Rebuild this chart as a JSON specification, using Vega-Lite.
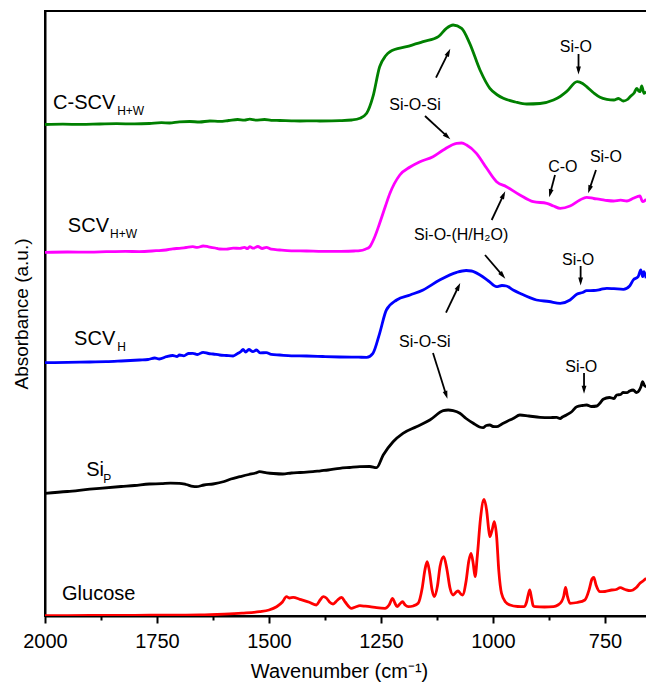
{
"$schema": "https://vega.github.io/schema/vega-lite/v6.json",
"width": 603, "height": 605,
"autosize": {"type": "none"},
"padding": {"left": 45, "top": 11, "right": 0, "bottom": 72},
"config": {"font": "Liberation Sans", "view": {"stroke": "black", "strokeWidth": 2}},
"datasets": {
"spectra": [
{"s":"C-SCVH+W","w":2000,"a":491.5},{"s":"C-SCVH+W","w":1960,"a":491.8},{"s":"C-SCVH+W","w":1920,"a":491.6},{"s":"C-SCVH+W","w":1878,"a":492},{"s":"C-SCVH+W","w":1840,"a":492.3},{"s":"C-SCVH+W","w":1800,"a":492.1},{"s":"C-SCVH+W","w":1767,"a":492.5},{"s":"C-SCVH+W","w":1740,"a":493.3},{"s":"C-SCVH+W","w":1722,"a":493},{"s":"C-SCVH+W","w":1700,"a":494.2},{"s":"C-SCVH+W","w":1677,"a":494.5},{"s":"C-SCVH+W","w":1655,"a":494},{"s":"C-SCVH+W","w":1632,"a":495},{"s":"C-SCVH+W","w":1610,"a":494.6},{"s":"C-SCVH+W","w":1590,"a":495.5},{"s":"C-SCVH+W","w":1570,"a":496.5},{"s":"C-SCVH+W","w":1555,"a":495.8},{"s":"C-SCVH+W","w":1543,"a":496.8},{"s":"C-SCVH+W","w":1530,"a":495.9},{"s":"C-SCVH+W","w":1510,"a":496.5},{"s":"C-SCVH+W","w":1495,"a":495.7},{"s":"C-SCVH+W","w":1476,"a":495.5},{"s":"C-SCVH+W","w":1450,"a":495.2},{"s":"C-SCVH+W","w":1431,"a":495},{"s":"C-SCVH+W","w":1400,"a":495.2},{"s":"C-SCVH+W","w":1387,"a":495},{"s":"C-SCVH+W","w":1360,"a":495.1},{"s":"C-SCVH+W","w":1342,"a":495.3},{"s":"C-SCVH+W","w":1315,"a":496},{"s":"C-SCVH+W","w":1297,"a":497.7},{"s":"C-SCVH+W","w":1282,"a":502.7},{"s":"C-SCVH+W","w":1268,"a":519.3},{"s":"C-SCVH+W","w":1253,"a":549.3},{"s":"C-SCVH+W","w":1240,"a":560},{"s":"C-SCVH+W","w":1230,"a":564.3},{"s":"C-SCVH+W","w":1193,"a":569.3},{"s":"C-SCVH+W","w":1156,"a":574.3},{"s":"C-SCVH+W","w":1122,"a":579.3},{"s":"C-SCVH+W","w":1104,"a":587.7},{"s":"C-SCVH+W","w":1089,"a":591},{"s":"C-SCVH+W","w":1070,"a":587.7},{"s":"C-SCVH+W","w":1052,"a":572.7},{"s":"C-SCVH+W","w":1029,"a":546},{"s":"C-SCVH+W","w":1007,"a":527.7},{"s":"C-SCVH+W","w":990,"a":521},{"s":"C-SCVH+W","w":977,"a":517.7},{"s":"C-SCVH+W","w":950,"a":514},{"s":"C-SCVH+W","w":925,"a":512},{"s":"C-SCVH+W","w":895,"a":512.5},{"s":"C-SCVH+W","w":865,"a":516},{"s":"C-SCVH+W","w":850,"a":519.5},{"s":"C-SCVH+W","w":836,"a":524.3},{"s":"C-SCVH+W","w":812,"a":534.3},{"s":"C-SCVH+W","w":800,"a":532.5},{"s":"C-SCVH+W","w":791,"a":529.3},{"s":"C-SCVH+W","w":775,"a":523},{"s":"C-SCVH+W","w":761,"a":518.7},{"s":"C-SCVH+W","w":746,"a":516.7},{"s":"C-SCVH+W","w":730,"a":516},{"s":"C-SCVH+W","w":720,"a":517.5},{"s":"C-SCVH+W","w":709,"a":515},{"s":"C-SCVH+W","w":700,"a":516.5},{"s":"C-SCVH+W","w":694,"a":519.3},{"s":"C-SCVH+W","w":685,"a":523},{"s":"C-SCVH+W","w":679,"a":527.7},{"s":"C-SCVH+W","w":675,"a":525},{"s":"C-SCVH+W","w":672,"a":524.3},{"s":"C-SCVH+W","w":668,"a":530},{"s":"C-SCVH+W","w":663,"a":522.7},{"s":"C-SCVH+W","w":658,"a":524.3},
{"s":"SCVH+W","w":2000,"a":363.7},{"s":"SCVH+W","w":1950,"a":364},{"s":"SCVH+W","w":1900,"a":363.9},{"s":"SCVH+W","w":1863,"a":364.3},{"s":"SCVH+W","w":1820,"a":364.6},{"s":"SCVH+W","w":1790,"a":364.4},{"s":"SCVH+W","w":1752,"a":365.3},{"s":"SCVH+W","w":1730,"a":366},{"s":"SCVH+W","w":1715,"a":367.2},{"s":"SCVH+W","w":1700,"a":367.7},{"s":"SCVH+W","w":1685,"a":368.5},{"s":"SCVH+W","w":1670,"a":369.3},{"s":"SCVH+W","w":1660,"a":368.6},{"s":"SCVH+W","w":1647,"a":370},{"s":"SCVH+W","w":1635,"a":369.2},{"s":"SCVH+W","w":1620,"a":368},{"s":"SCVH+W","w":1610,"a":367},{"s":"SCVH+W","w":1595,"a":366.8},{"s":"SCVH+W","w":1580,"a":367.8},{"s":"SCVH+W","w":1565,"a":367.7},{"s":"SCVH+W","w":1555,"a":368.6},{"s":"SCVH+W","w":1548,"a":367.3},{"s":"SCVH+W","w":1543,"a":369.3},{"s":"SCVH+W","w":1535,"a":367.8},{"s":"SCVH+W","w":1525,"a":369.5},{"s":"SCVH+W","w":1515,"a":367.5},{"s":"SCVH+W","w":1506,"a":368.7},{"s":"SCVH+W","w":1495,"a":366.8},{"s":"SCVH+W","w":1476,"a":366},{"s":"SCVH+W","w":1450,"a":365.2},{"s":"SCVH+W","w":1416,"a":365},{"s":"SCVH+W","w":1380,"a":364.6},{"s":"SCVH+W","w":1342,"a":364.7},{"s":"SCVH+W","w":1310,"a":365},{"s":"SCVH+W","w":1297,"a":365.3},{"s":"SCVH+W","w":1285,"a":366.8},{"s":"SCVH+W","w":1275,"a":369.3},{"s":"SCVH+W","w":1265,"a":378},{"s":"SCVH+W","w":1253,"a":392.7},{"s":"SCVH+W","w":1240,"a":410},{"s":"SCVH+W","w":1230,"a":422.7},{"s":"SCVH+W","w":1208,"a":441},{"s":"SCVH+W","w":1185,"a":449},{"s":"SCVH+W","w":1163,"a":454.3},{"s":"SCVH+W","w":1134,"a":459.3},{"s":"SCVH+W","w":1111,"a":466},{"s":"SCVH+W","w":1081,"a":472.7},{"s":"SCVH+W","w":1070,"a":473},{"s":"SCVH+W","w":1059,"a":471},{"s":"SCVH+W","w":1037,"a":462.7},{"s":"SCVH+W","w":1014,"a":447.7},{"s":"SCVH+W","w":992,"a":434.3},{"s":"SCVH+W","w":970,"a":429.3},{"s":"SCVH+W","w":940,"a":421},{"s":"SCVH+W","w":910,"a":414.3},{"s":"SCVH+W","w":880,"a":412.7},{"s":"SCVH+W","w":865,"a":410},{"s":"SCVH+W","w":850,"a":407.7},{"s":"SCVH+W","w":828,"a":410},{"s":"SCVH+W","w":806,"a":416},{"s":"SCVH+W","w":791,"a":418.7},{"s":"SCVH+W","w":775,"a":417.5},{"s":"SCVH+W","w":761,"a":416.7},{"s":"SCVH+W","w":745,"a":415.5},{"s":"SCVH+W","w":731,"a":415},{"s":"SCVH+W","w":715,"a":415.8},{"s":"SCVH+W","w":701,"a":415},{"s":"SCVH+W","w":687,"a":417.7},{"s":"SCVH+W","w":672,"a":420},{"s":"SCVH+W","w":666,"a":414.3},{"s":"SCVH+W","w":658,"a":416.7},
{"s":"SCVH","w":2000,"a":253.3},{"s":"SCVH","w":1950,"a":253.6},{"s":"SCVH","w":1900,"a":254},{"s":"SCVH","w":1863,"a":254.3},{"s":"SCVH","w":1830,"a":255},{"s":"SCVH","w":1789,"a":256},{"s":"SCVH","w":1770,"a":256.5},{"s":"SCVH","w":1755,"a":258},{"s":"SCVH","w":1745,"a":257},{"s":"SCVH","w":1729,"a":259.3},{"s":"SCVH","w":1715,"a":260.5},{"s":"SCVH","w":1705,"a":259.5},{"s":"SCVH","w":1700,"a":261},{"s":"SCVH","w":1690,"a":260.2},{"s":"SCVH","w":1680,"a":262.5},{"s":"SCVH","w":1670,"a":262.7},{"s":"SCVH","w":1660,"a":261.5},{"s":"SCVH","w":1647,"a":263.7},{"s":"SCVH","w":1635,"a":262.5},{"s":"SCVH","w":1625,"a":262},{"s":"SCVH","w":1610,"a":261},{"s":"SCVH","w":1595,"a":260.5},{"s":"SCVH","w":1580,"a":260},{"s":"SCVH","w":1570,"a":262.5},{"s":"SCVH","w":1562,"a":264.8},{"s":"SCVH","w":1558,"a":266.7},{"s":"SCVH","w":1552,"a":264},{"s":"SCVH","w":1545,"a":266.5},{"s":"SCVH","w":1536,"a":264.3},{"s":"SCVH","w":1528,"a":266},{"s":"SCVH","w":1520,"a":263.2},{"s":"SCVH","w":1506,"a":263.3},{"s":"SCVH","w":1495,"a":261.6},{"s":"SCVH","w":1476,"a":261},{"s":"SCVH","w":1450,"a":260.2},{"s":"SCVH","w":1416,"a":260},{"s":"SCVH","w":1380,"a":259.5},{"s":"SCVH","w":1342,"a":259},{"s":"SCVH","w":1300,"a":258.8},{"s":"SCVH","w":1282,"a":258.7},{"s":"SCVH","w":1268,"a":262.7},{"s":"SCVH","w":1253,"a":282.7},{"s":"SCVH","w":1238,"a":306},{"s":"SCVH","w":1215,"a":316},{"s":"SCVH","w":1185,"a":321},{"s":"SCVH","w":1156,"a":326},{"s":"SCVH","w":1119,"a":336},{"s":"SCVH","w":1081,"a":343.7},{"s":"SCVH","w":1060,"a":345.5},{"s":"SCVH","w":1048,"a":345},{"s":"SCVH","w":1029,"a":341},{"s":"SCVH","w":1010,"a":335},{"s":"SCVH","w":992,"a":329.3},{"s":"SCVH","w":980,"a":330.5},{"s":"SCVH","w":970,"a":330},{"s":"SCVH","w":955,"a":326},{"s":"SCVH","w":940,"a":322.7},{"s":"SCVH","w":903,"a":316},{"s":"SCVH","w":875,"a":314.5},{"s":"SCVH","w":850,"a":312.7},{"s":"SCVH","w":828,"a":316},{"s":"SCVH","w":813,"a":321.7},{"s":"SCVH","w":800,"a":323.5},{"s":"SCVH","w":791,"a":325.3},{"s":"SCVH","w":775,"a":325.5},{"s":"SCVH","w":760,"a":326.5},{"s":"SCVH","w":746,"a":327.7},{"s":"SCVH","w":730,"a":327.3},{"s":"SCVH","w":709,"a":326.7},{"s":"SCVH","w":695,"a":330},{"s":"SCVH","w":687,"a":336},{"s":"SCVH","w":676,"a":339.3},{"s":"SCVH","w":670,"a":346},{"s":"SCVH","w":666,"a":339.3},{"s":"SCVH","w":663,"a":344.3},{"s":"SCVH","w":658,"a":337.7},
{"s":"SiP","w":2000,"a":122.7},{"s":"SiP","w":1950,"a":124.5},{"s":"SiP","w":1900,"a":126.8},{"s":"SiP","w":1878,"a":127.7},{"s":"SiP","w":1830,"a":129.5},{"s":"SiP","w":1800,"a":130.5},{"s":"SiP","w":1767,"a":132},{"s":"SiP","w":1740,"a":132.3},{"s":"SiP","w":1720,"a":132.8},{"s":"SiP","w":1700,"a":132.7},{"s":"SiP","w":1685,"a":131.5},{"s":"SiP","w":1670,"a":129.6},{"s":"SiP","w":1662,"a":129.3},{"s":"SiP","w":1645,"a":131},{"s":"SiP","w":1625,"a":132},{"s":"SiP","w":1600,"a":134.5},{"s":"SiP","w":1585,"a":137},{"s":"SiP","w":1565,"a":139.3},{"s":"SiP","w":1545,"a":141.5},{"s":"SiP","w":1530,"a":143},{"s":"SiP","w":1521,"a":144.3},{"s":"SiP","w":1505,"a":143.2},{"s":"SiP","w":1490,"a":142.5},{"s":"SiP","w":1469,"a":142},{"s":"SiP","w":1450,"a":143},{"s":"SiP","w":1430,"a":143.5},{"s":"SiP","w":1402,"a":144.3},{"s":"SiP","w":1385,"a":145.2},{"s":"SiP","w":1368,"a":146},{"s":"SiP","w":1342,"a":147.7},{"s":"SiP","w":1320,"a":148.5},{"s":"SiP","w":1297,"a":149.3},{"s":"SiP","w":1275,"a":149.5},{"s":"SiP","w":1260,"a":148.3},{"s":"SiP","w":1245,"a":161},{"s":"SiP","w":1223,"a":174.3},{"s":"SiP","w":1201,"a":182.7},{"s":"SiP","w":1171,"a":189.3},{"s":"SiP","w":1141,"a":196},{"s":"SiP","w":1111,"a":205.3},{"s":"SiP","w":1100,"a":206},{"s":"SiP","w":1089,"a":205.3},{"s":"SiP","w":1074,"a":202.7},{"s":"SiP","w":1060,"a":197.5},{"s":"SiP","w":1044,"a":192.7},{"s":"SiP","w":1030,"a":189},{"s":"SiP","w":1022,"a":188.3},{"s":"SiP","w":1015,"a":190.5},{"s":"SiP","w":1007,"a":191},{"s":"SiP","w":1000,"a":189.5},{"s":"SiP","w":992,"a":189.3},{"s":"SiP","w":980,"a":192},{"s":"SiP","w":970,"a":194.3},{"s":"SiP","w":955,"a":197.5},{"s":"SiP","w":940,"a":201},{"s":"SiP","w":920,"a":200},{"s":"SiP","w":895,"a":198.7},{"s":"SiP","w":875,"a":198.3},{"s":"SiP","w":858,"a":198.7},{"s":"SiP","w":850,"a":197.5},{"s":"SiP","w":845,"a":199},{"s":"SiP","w":836,"a":201},{"s":"SiP","w":825,"a":204},{"s":"SiP","w":813,"a":209.3},{"s":"SiP","w":800,"a":210.5},{"s":"SiP","w":791,"a":211},{"s":"SiP","w":780,"a":209.5},{"s":"SiP","w":768,"a":210},{"s":"SiP","w":760,"a":213.5},{"s":"SiP","w":754,"a":216.7},{"s":"SiP","w":740,"a":218.5},{"s":"SiP","w":730,"a":217.5},{"s":"SiP","w":724,"a":221},{"s":"SiP","w":715,"a":221.5},{"s":"SiP","w":710,"a":223.5},{"s":"SiP","w":701,"a":223.3},{"s":"SiP","w":695,"a":225},{"s":"SiP","w":687,"a":226},{"s":"SiP","w":680,"a":223.5},{"s":"SiP","w":676,"a":224.3},{"s":"SiP","w":670,"a":229},{"s":"SiP","w":666,"a":234.3},{"s":"SiP","w":662,"a":230.5},{"s":"SiP","w":658,"a":229.3},
{"s":"Glucose","w":2000,"a":0.3},{"s":"Glucose","w":1900,"a":0.5},{"s":"Glucose","w":1800,"a":0.7},{"s":"Glucose","w":1700,"a":0.9},{"s":"Glucose","w":1655,"a":1},{"s":"Glucose","w":1600,"a":1.8},{"s":"Glucose","w":1560,"a":2.8},{"s":"Glucose","w":1521,"a":4.3},{"s":"Glucose","w":1500,"a":6},{"s":"Glucose","w":1483,"a":9.3},{"s":"Glucose","w":1470,"a":14},{"s":"Glucose","w":1461,"a":19.3},{"s":"Glucose","w":1454,"a":18},{"s":"Glucose","w":1446,"a":18.7},{"s":"Glucose","w":1431,"a":16.7},{"s":"Glucose","w":1410,"a":13.8},{"s":"Glucose","w":1394,"a":11},{"s":"Glucose","w":1386,"a":16},{"s":"Glucose","w":1379,"a":19.3},{"s":"Glucose","w":1372,"a":18},{"s":"Glucose","w":1365,"a":14},{"s":"Glucose","w":1357,"a":12},{"s":"Glucose","w":1348,"a":15.5},{"s":"Glucose","w":1338,"a":18.7},{"s":"Glucose","w":1330,"a":14},{"s":"Glucose","w":1316,"a":7.7},{"s":"Glucose","w":1307,"a":9},{"s":"Glucose","w":1297,"a":10.3},{"s":"Glucose","w":1285,"a":9.8},{"s":"Glucose","w":1275,"a":9.3},{"s":"Glucose","w":1260,"a":8.3},{"s":"Glucose","w":1241,"a":7.7},{"s":"Glucose","w":1232,"a":11},{"s":"Glucose","w":1224,"a":17.7},{"s":"Glucose","w":1219,"a":13},{"s":"Glucose","w":1214,"a":9.3},{"s":"Glucose","w":1208,"a":12},{"s":"Glucose","w":1202,"a":14.3},{"s":"Glucose","w":1196,"a":11},{"s":"Glucose","w":1189,"a":9.3},{"s":"Glucose","w":1178,"a":10},{"s":"Glucose","w":1167,"a":12.7},{"s":"Glucose","w":1158,"a":28},{"s":"Glucose","w":1152,"a":46},{"s":"Glucose","w":1147,"a":54.3},{"s":"Glucose","w":1142,"a":45},{"s":"Glucose","w":1136,"a":26},{"s":"Glucose","w":1131,"a":19.3},{"s":"Glucose","w":1124,"a":30},{"s":"Glucose","w":1118,"a":50},{"s":"Glucose","w":1110,"a":59.3},{"s":"Glucose","w":1103,"a":47},{"s":"Glucose","w":1096,"a":28},{"s":"Glucose","w":1089,"a":21},{"s":"Glucose","w":1082,"a":24},{"s":"Glucose","w":1078,"a":25},{"s":"Glucose","w":1072,"a":22},{"s":"Glucose","w":1068,"a":21},{"s":"Glucose","w":1060,"a":35},{"s":"Glucose","w":1054,"a":55},{"s":"Glucose","w":1049,"a":62.7},{"s":"Glucose","w":1044,"a":52},{"s":"Glucose","w":1040,"a":39.3},{"s":"Glucose","w":1035,"a":60},{"s":"Glucose","w":1028,"a":97},{"s":"Glucose","w":1020,"a":116.7},{"s":"Glucose","w":1014,"a":105},{"s":"Glucose","w":1010,"a":88},{"s":"Glucose","w":1007,"a":79.3},{"s":"Glucose","w":1002,"a":86},{"s":"Glucose","w":997,"a":94.3},{"s":"Glucose","w":992,"a":80},{"s":"Glucose","w":987,"a":45},{"s":"Glucose","w":981,"a":22.7},{"s":"Glucose","w":972,"a":14},{"s":"Glucose","w":962,"a":11},{"s":"Glucose","w":945,"a":9.5},{"s":"Glucose","w":931,"a":9.3},{"s":"Glucose","w":925,"a":14},{"s":"Glucose","w":921,"a":22},{"s":"Glucose","w":918,"a":26},{"s":"Glucose","w":914,"a":18},{"s":"Glucose","w":910,"a":10},{"s":"Glucose","w":906,"a":9.3},{"s":"Glucose","w":885,"a":9},{"s":"Glucose","w":865,"a":9.3},{"s":"Glucose","w":855,"a":11},{"s":"Glucose","w":847,"a":14.3},{"s":"Glucose","w":842,"a":20},{"s":"Glucose","w":838,"a":28.7},{"s":"Glucose","w":834,"a":20},{"s":"Glucose","w":828,"a":12.7},{"s":"Glucose","w":812,"a":13.5},{"s":"Glucose","w":795,"a":16},{"s":"Glucose","w":785,"a":27},{"s":"Glucose","w":779,"a":37},{"s":"Glucose","w":775,"a":38.7},{"s":"Glucose","w":770,"a":31},{"s":"Glucose","w":761,"a":24.3},{"s":"Glucose","w":750,"a":24.5},{"s":"Glucose","w":735,"a":26},{"s":"Glucose","w":725,"a":26.5},{"s":"Glucose","w":716,"a":28.3},{"s":"Glucose","w":705,"a":26.5},{"s":"Glucose","w":694,"a":25.3},{"s":"Glucose","w":680,"a":28.5},{"s":"Glucose","w":672,"a":32.7},{"s":"Glucose","w":665,"a":35},{"s":"Glucose","w":658,"a":37.7}
],
"names": [
{"w":1982,"a":507.5,"t":"C-SCV"},{"w":1949,"a":384.5,"t":"SCV"},{"w":1935,"a":271,"t":"SCV"},{"w":1908,"a":140,"t":"Si"},{"w":1962,"a":16,"t":"Glucose"}
],
"subs": [
{"w":1839,"a":501,"t":"H+W"},{"w":1855,"a":378,"t":"H+W"},{"w":1839,"a":265,"t":"H"},{"w":1870,"a":133,"t":"P"}
],
"notes": [
{"w":1174,"a":506,"t":"Si-O-Si"},{"w":815,"a":564,"t":"Si-O"},{"w":844,"a":444,"t":"C-O"},{"w":748,"a":454,"t":"Si-O"},{"w":1071,"a":376,"t":"Si-O-(H/H₂O)"},{"w":810,"a":351,"t":"Si-O"},{"w":1152,"a":269,"t":"Si-O-Si"},{"w":803,"a":244,"t":"Si-O"}
],
"arrows": [
{"w":1127.2,"a":538.3,"w2":1099.3,"a2":563.6,"ang":26.2},
{"w":1151.8,"a":500,"w2":1101.8,"a2":479.4,"ang":132.6},
{"w":809.1,"a":562,"w2":809.1,"a2":545.5,"ang":180},
{"w":861.6,"a":441,"w2":872.3,"a2":422.7,"ang":194.7},
{"w":770.1,"a":446,"w2":784.8,"a2":426.6,"ang":198.7},
{"w":1002.9,"a":396,"w2":976.5,"a2":421.1,"ang":25.2},
{"w":1017.8,"a":361,"w2":978.3,"a2":340.4,"ang":139.4},
{"w":804.4,"a":350,"w2":804.4,"a2":334.5,"ang":180},
{"w":1104.9,"a":303.3,"w2":1077,"a2":329.5,"ang":25.5},
{"w":1133.9,"a":263,"w2":1104.4,"a2":221,"ang":162.5},
{"w":796.8,"a":243,"w2":796.8,"a2":226.2,"ang":180}
]
},
"layer": [
{
"data": {"name": "spectra"},
"mark": {"type": "line", "strokeWidth": 2.8, "interpolate": "monotone", "clip": true},
"encoding": {
"x": {"field": "w", "type": "quantitative",
 "scale": {"domain": [654, 2000], "reverse": true, "nice": false, "zero": false},
 "axis": {"values": [2000,1875,1750,1625,1500,1375,1250,1125,1000,875,750], "format": "d",
  "labelExpr": "datum.value % 250 === 0 ? datum.label : ''",
  "tickSize": {"condition": {"test": "datum.value % 250 === 0", "value": 7}, "value": 4},
  "tickWidth": 2, "tickColor": "black", "domainColor": "black", "domainWidth": 2,
  "labelFontSize": 20, "labelColor": "black", "labelPadding": 8, "labelOverlap": false, "labelFlush": false,
  "grid": false, "title": "Wavenumber (cm⁻¹)", "titleFontSize": 20, "titleFontWeight": "normal",
  "titleColor": "black", "titlePadding": 10, "titleX": 294}},
"y": {"field": "a", "type": "quantitative",
 "scale": {"domain": [0, 605], "nice": false, "zero": false},
 "axis": {"title": "Absorbance (a.u.)", "ticks": false, "labels": false, "grid": false,
  "domainColor": "black", "domainWidth": 2, "titleFontSize": 19, "titleFontWeight": "normal",
  "titleColor": "black", "titlePadding": 14}},
"color": {"field": "s", "type": "nominal", "legend": null,
 "scale": {"domain": ["C-SCVH+W","SCVH+W","SCVH","SiP","Glucose"], "range": ["#008000","#ff00ff","#0000ff","#000000","#ff0000"]}}
}
},
{
"data": {"name": "arrows"},
"mark": {"type": "rule", "color": "black", "strokeWidth": 1.8},
"encoding": {
"x": {"field": "w", "type": "quantitative"},
"y": {"field": "a", "type": "quantitative"},
"x2": {"field": "w2"}, "y2": {"field": "a2"}
}
},
{
"data": {"name": "arrows"},
"mark": {"type": "point", "shape": "M0,-1L0.6,1L-0.6,1Z", "filled": true, "color": "black", "size": 64, "opacity": 1},
"encoding": {
"x": {"field": "w2", "type": "quantitative"},
"y": {"field": "a2", "type": "quantitative"},
"angle": {"field": "ang", "type": "quantitative", "scale": null}
}
},
{
"data": {"name": "names"},
"mark": {"type": "text", "align": "left", "baseline": "alphabetic", "fontSize": 20, "color": "black"},
"encoding": {
"x": {"field": "w", "type": "quantitative"},
"y": {"field": "a", "type": "quantitative"},
"text": {"field": "t"}
}
},
{
"data": {"name": "subs"},
"mark": {"type": "text", "align": "left", "baseline": "alphabetic", "fontSize": 12, "color": "black"},
"encoding": {
"x": {"field": "w", "type": "quantitative"},
"y": {"field": "a", "type": "quantitative"},
"text": {"field": "t"}
}
},
{
"data": {"name": "notes"},
"mark": {"type": "text", "align": "center", "baseline": "alphabetic", "fontSize": 16, "color": "black"},
"encoding": {
"x": {"field": "w", "type": "quantitative"},
"y": {"field": "a", "type": "quantitative"},
"text": {"field": "t"}
}
}
]
}
